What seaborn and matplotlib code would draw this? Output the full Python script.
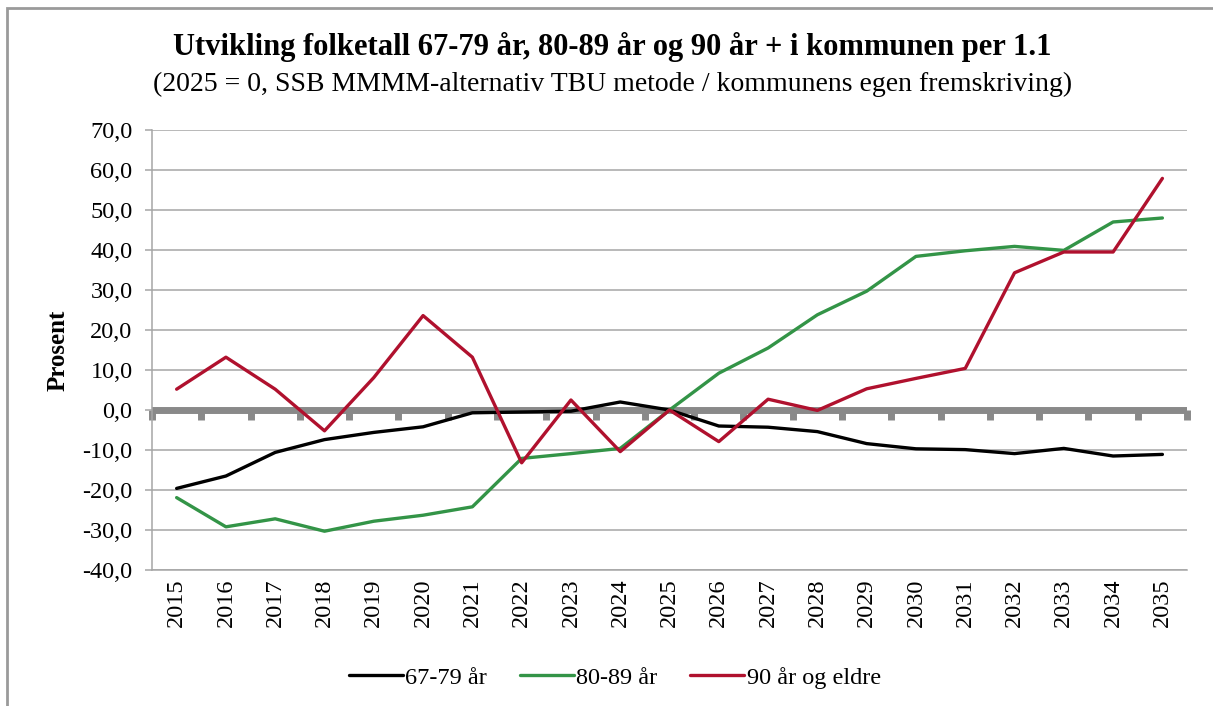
import pandas as pd
import matplotlib.pyplot as plt
import seaborn as sns
from matplotlib.patches import Rectangle
from matplotlib.ticker import FuncFormatter, FixedLocator

# -------------------------------
# Data (% change vs 2025)
# -------------------------------
years = list(range(2015, 2036))
age_67_79 = [-19.6, -16.5, -10.6, -7.4, -5.6, -4.2, -0.7, -0.5, -0.3, 2.0, 0.0,
             -4.0, -4.3, -5.4, -8.4, -9.7, -9.9, -10.9, -9.6, -11.5, -11.1]
age_80_89 = [-21.9, -29.2, -27.2, -30.3, -27.8, -26.3, -24.2, -12.1, -10.9, -9.6, 0.0,
             9.2, 15.5, 23.8, 29.7, 38.4, 39.8, 40.9, 39.9, 47.0, 48.0]
age_90 = [5.2, 13.2, 5.2, -5.2, 8.1, 23.6, 13.2, -13.2, 2.5, -10.4, 0.0,
          -7.9, 2.7, -0.1, 5.3, 7.9, 10.4, 34.3, 39.5, 39.5, 57.9]
series_names = ['67-79 år', '80-89 år', '90 år og eldre']
colors = ['#000000', '#339447', '#B0112E']

df = pd.DataFrame({'år': years, series_names[0]: age_67_79,
                   series_names[1]: age_80_89, series_names[2]: age_90})
long_df = df.melt(id_vars='år', var_name='gruppe', value_name='prosent')

# -------------------------------
# Style
# -------------------------------
sns.set_style('white')
plt.rcParams['font.family'] = ['Liberation Serif', 'DejaVu Serif']
plt.rcParams['text.color'] = 'black'
plt.rcParams['xtick.color'] = 'black'
plt.rcParams['ytick.color'] = 'black'
plt.rcParams['axes.labelcolor'] = 'black'
grid_col = '#A6A6A6'
zero_col = '#898989'

fig = plt.figure(figsize=(12.13, 7.06), dpi=100)
ax = fig.add_axes([0.1253, 0.1926, 0.8533, 0.6233])

ax.set_ylim(-40, 70)
ax.set_xlim(years[0] - 0.5, years[-1] + 0.5)
ax.set_yticks(range(-40, 71, 10))
ax.yaxis.set_major_formatter(FuncFormatter(lambda v, p: f'{v:.1f}'.replace('.', ',')))
ax.grid(axis='y', color=grid_col, lw=1.1)
ax.set_axisbelow(True)

# zero line with category-boundary ticks
ax.axhline(0, color=zero_col, lw=5, zorder=1.5)
sec = ax.secondary_xaxis(40 / 110)
sec.spines['bottom'].set_visible(False)
sec.xaxis.set_major_locator(FixedLocator([y - 0.5 for y in years] + [years[-1] + 0.5]))
sec.tick_params(axis='x', length=7, width=5, color=zero_col, labelbottom=False, direction='out')

sns.lineplot(data=long_df, x='år', y='prosent', hue='gruppe', palette=colors,
             lw=2.4, ax=ax, legend=True, zorder=3)

for s in ['top', 'right']:
    ax.spines[s].set_visible(False)
for s in ['left', 'bottom']:
    ax.spines[s].set_color(grid_col)
    ax.spines[s].set_linewidth(1.1)

ax.set_xticks(years)
ax.set_xticklabels([str(y) for y in years], rotation=90)
ax.tick_params(axis='x', length=0, labelsize=17.5, pad=6)
ax.tick_params(axis='y', length=5, width=1.1, color=grid_col, labelcolor='black',
               labelsize=17.5, pad=9, left=True)
ax.set_xlabel('')
ax.set_ylabel('Prosent', fontsize=18, fontweight='bold', labelpad=9)

# legend
handles, labels = ax.get_legend_handles_labels()
ax.legend_.remove()
fig.legend(handles, labels, loc='center', bbox_to_anchor=(0.507, 0.040), ncol=3,
           frameon=False, fontsize=17.5, handlelength=2.2, handletextpad=0.12,
           columnspacing=1.35)

# titles
fig.text(0.505, 0.933, 'Utvikling folketall 67-79 år, 80-89 år og 90 år + i kommunen per 1.1',
         ha='center', va='center', fontsize=22, fontweight='bold')
fig.text(0.505, 0.880, '(2025 = 0, SSB MMMM-alternativ TBU metode / kommunens egen fremskriving)',
         ha='center', va='center', fontsize=20)

# chart-area border (only left and top edges visible in frame)
fig.patches.append(Rectangle((7 / 1213, -0.1), 1.1, 1.1 - 8 / 706, transform=fig.transFigure,
                             fill=False, edgecolor='#9A9A9A', lw=2))

fig.savefig('out.png', dpi=100)
